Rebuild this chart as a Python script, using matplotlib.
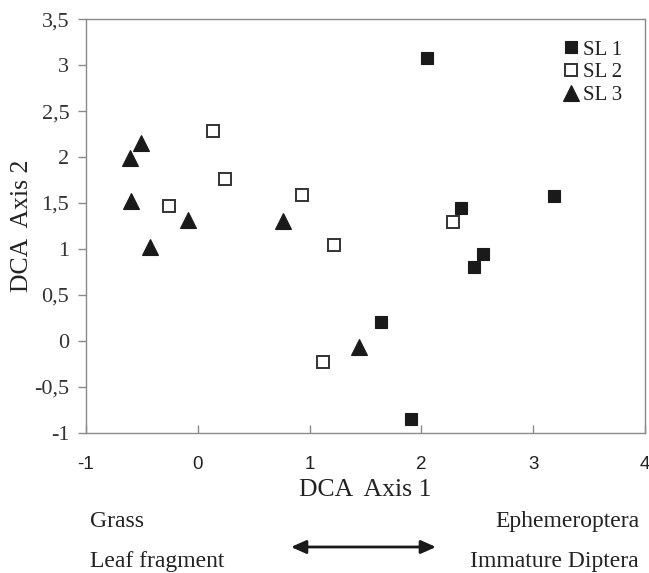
import matplotlib
matplotlib.use("Agg")
import matplotlib.pyplot as plt
from matplotlib.ticker import FixedLocator, FixedFormatter

# ---- data ----
sl1_x = [2.05, 3.19, 2.35, 2.55, 2.47, 1.64, 1.91]
sl1_y = [3.08, 1.58, 1.45, 0.94, 0.80, 0.20, -0.85]

sl2_x = [0.14, 0.24, -0.26, 0.93, 1.22, 2.28, 1.12]
sl2_y = [2.28, 1.76, 1.47, 1.59, 1.04, 1.29, -0.23]

sl3_x = [-0.51, -0.61, -0.60, -0.09, -0.43, 0.76, 1.44]
sl3_y = [2.15, 1.99, 1.52, 1.32, 1.02, 1.30, -0.07]

series_labels = ["SL 1", "SL 2", "SL 3"]
x_ticks = [-1, 0, 1, 2, 3, 4]
x_tick_labels = ["-1", "0", "1", "2", "3", "4"]
y_ticks = [-1, -0.5, 0, 0.5, 1, 1.5, 2, 2.5, 3, 3.5]
y_tick_labels = ["-1", "-0,5", "0", "0,5", "1", "1,5", "2", "2,5", "3", "3,5"]

W, H = 649, 573
fig = plt.figure(figsize=(W / 100, H / 100), dpi=100)
ax = fig.add_axes([86 / W, 1 - 432.7 / H, (645 - 86) / W, (432.7 - 19.3) / H])

ink = "#1a1a1a"
spine_c = "#8a8a8a"
serif = "Liberation Serif"
sans = "Liberation Sans"

ax.plot(sl1_x, sl1_y, linestyle="none", marker="s", markersize=9,
        markerfacecolor=ink, markeredgecolor=ink, markeredgewidth=0.8, label=series_labels[0])
ax.plot(sl2_x, sl2_y, linestyle="none", marker="s", markersize=9,
        markerfacecolor="white", markeredgecolor="#333333", markeredgewidth=1.4, label=series_labels[1])
ax.plot(sl3_x, sl3_y, linestyle="none", marker="^", markersize=11,
        markerfacecolor=ink, markeredgecolor=ink, markeredgewidth=0.8, label=series_labels[2])

ax.set_xlim(-1, 4)
ax.set_ylim(-1, 3.5)
ax.xaxis.set_major_locator(FixedLocator(x_ticks))
ax.xaxis.set_major_formatter(FixedFormatter(x_tick_labels))
ax.yaxis.set_major_locator(FixedLocator(y_ticks))
ax.yaxis.set_major_formatter(FixedFormatter(y_tick_labels))

for s in ax.spines.values():
    s.set_color(spine_c)
    s.set_linewidth(1.0)

ax.tick_params(axis="x", direction="in", length=6, width=1, color=spine_c,
               pad=17, labelsize=13.5, labelcolor="#222222")
ax.tick_params(axis="y", direction="out", length=5.5, width=1, color=spine_c,
               pad=6.5, labelsize=16, labelcolor="#333333")
for lab in ax.get_xticklabels():
    lab.set_fontfamily(sans)
for lab in ax.get_yticklabels():
    lab.set_fontfamily(serif)

ax.set_xlabel("DCA  Axis 1", fontfamily=serif, fontsize=18.5, color="#222222", labelpad=4)
ax.set_ylabel("DCA  Axis 2", fontfamily=serif, fontsize=18.5, color="#222222")
ax.yaxis.set_label_coords((33 - 86) / 559, 0.5)

leg = ax.legend(loc="upper right", frameon=False, handlelength=0.6, handletextpad=0.25,
                labelspacing=0.15, borderaxespad=0.3,
                prop={"family": serif, "size": 15}, bbox_to_anchor=(0.985, 0.985))
for t in leg.get_texts():
    t.set_color("#222222")

# bottom annotations
fs = 17
fig.text(90 / W, 1 - 527 / H, "Grass", fontfamily=serif, fontsize=fs, color="#222222",
         ha="left", va="baseline")
fig.text(90 / W, 1 - 567 / H, "Leaf fragment", fontfamily=serif, fontsize=fs, color="#222222",
         ha="left", va="baseline")
fig.text(639 / W, 1 - 527 / H, "Ephemeroptera", fontfamily=serif, fontsize=fs, color="#222222",
         ha="right", va="baseline")
fig.text(639 / W, 1 - 567 / H, "Immature Diptera", fontfamily=serif, fontsize=fs, color="#222222",
         ha="right", va="baseline")

ax.annotate("", xy=(436 / W, 1 - 547 / H), xytext=(291 / W, 1 - 547 / H),
            xycoords="figure fraction", textcoords="figure fraction",
            arrowprops=dict(arrowstyle="<|-|>,head_length=0.9,head_width=0.4",
                            color=ink, lw=2, shrinkA=0, shrinkB=0),
            annotation_clip=False)

fig.savefig("out.png", dpi=100)
